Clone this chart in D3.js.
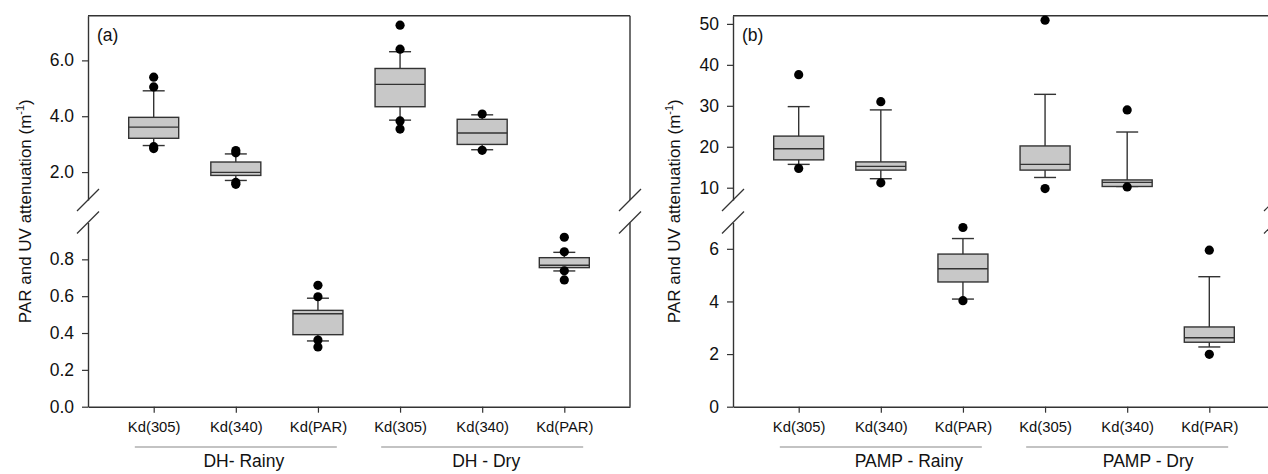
<!DOCTYPE html>
<html>
<head>
<meta charset="utf-8">
<script src="https://cdn.jsdelivr.net/npm/d3@7"></script>
<style>
  body { margin: 0; background: #fff; }
  svg { font-family: "Liberation Sans", Arial, sans-serif; }
</style>
</head>
<body>
<svg id="chart" width="1268" height="474"></svg>
<script>
// x categories, same for both panels (3 per season)
const categories = ['Kd(305)', 'Kd(340)', 'Kd(PAR)', 'Kd(305)', 'Kd(340)', 'Kd(PAR)'];

// panel (a) - DH
const dhGroups = ['DH- Rainy', 'DH - Dry'];
const dhWhiskerLow = [2.95, 1.70, 0.357, 3.86, 2.80, 0.737];
const dhQ1 = [3.21, 1.88, 0.391, 4.34, 2.99, 0.755];
const dhMedian = [3.61, 1.99, 0.505, 5.14, 3.40, 0.768];
const dhQ3 = [3.96, 2.36, 0.523, 5.71, 3.89, 0.809];
const dhWhiskerHigh = [4.91, 2.65, 0.589, 6.31, 4.05, 0.838];
const dhOutliers = [
    [5.40, 5.05, 2.91, 2.84],
    [2.77, 2.69, 1.63, 1.56],
    [0.659, 0.597, 0.362, 0.324],
    [7.26, 6.40, 3.83, 3.54],
    [4.08, 2.78],
    [0.92, 0.841, 0.738, 0.688]
];
const dhUpperTicks = [2, 4, 6];
const dhLowerTicks = [0, 0.2, 0.4, 0.6, 0.8];

// panel (b) - PAMP
const pampGroups = ['PAMP - Rainy', 'PAMP - Dry'];
const pampWhiskerLow = [15.7, 12.2, 4.09, 12.5, 10.3, 2.27];
const pampQ1 = [16.8, 14.3, 4.74, 14.3, 10.3, 2.45];
const pampMedian = [19.5, 15.2, 5.24, 15.7, 11.3, 2.62];
const pampQ3 = [22.6, 16.3, 5.80, 20.2, 11.9, 3.03];
const pampWhiskerHigh = [29.8, 29.0, 6.39, 32.8, 23.6, 4.94];
const pampOutliers = [
    [37.6, 14.7],
    [31.0, 11.2],
    [6.81, 4.03],
    [50.9, 9.8],
    [29.0, 10.2],
    [5.95, 1.99]
];
const pampUpperTicks = [10, 20, 30, 40, 50];
const pampLowerTicks = [0, 2, 4, 6];

// vertical layout shared by both panels (broken y axis)
const plotTop = 15.7;
const breakHigh = 200;
const breakLow = 222.5;
const plotBottom = 406.7;

const svg = d3.select('#chart');

function styleAxis(sel, size) {
    sel.select('.domain').attr('stroke', '#333').attr('stroke-width', 1.4);
    sel.selectAll('.tick line').attr('stroke', '#333').attr('stroke-width', 1.2);
    sel.selectAll('.tick text')
        .attr('fill', '#111')
        .style('font-size', size + 'px')
        .style('font-family', '"Liberation Sans", Arial, sans-serif');
}

function drawPanel(cfg) {
    const g = svg.append('g');

    // scales: one x point scale, two y scales for the broken axis
    const x = d3.scalePoint()
        .domain(d3.range(categories.length))
        .range([cfg.left, cfg.right])
        .padding(0.8);
    const yUp = d3.scaleLinear().domain(cfg.upperDomain).range([breakHigh, plotTop]);
    const yLow = d3.scaleLinear().domain(cfg.lowerDomain).range([plotBottom, breakLow]);
    const y = v => v <= cfg.lowerDomain[1] ? yLow(v) : yUp(v);

    // y axes (upper and lower segments)
    g.append('g')
        .attr('transform', `translate(${cfg.left},0)`)
        .call(d3.axisLeft(yUp).tickValues(cfg.upperTicks).tickFormat(cfg.format)
            .tickSize(6).tickSizeOuter(0).tickPadding(8))
        .call(styleAxis, 17.5);
    g.append('g')
        .attr('transform', `translate(${cfg.left},0)`)
        .call(d3.axisLeft(yLow).tickValues(cfg.lowerTicks).tickFormat(cfg.format)
            .tickSize(6).tickSizeOuter(0).tickPadding(8))
        .call(styleAxis, 17.5);

    // x axis
    g.append('g')
        .attr('transform', `translate(0,${plotBottom})`)
        .call(d3.axisBottom(x).tickFormat(i => categories[i]).tickSize(6).tickSizeOuter(0).tickPadding(9))
        .call(styleAxis, 14.8);

    // rest of the frame: top line + right side in both segments
    const frame = g.append('g').attr('stroke', '#333').attr('stroke-width', 1.4);
    frame.append('line').attr('x1', cfg.left).attr('x2', cfg.right).attr('y1', plotTop).attr('y2', plotTop);
    frame.append('line').attr('x1', cfg.right).attr('x2', cfg.right).attr('y1', plotTop).attr('y2', breakHigh);
    frame.append('line').attr('x1', cfg.right).attr('x2', cfg.right).attr('y1', breakLow).attr('y2', plotBottom);

    // break marks on both sides
    [cfg.left, cfg.right].forEach(bx => {
        [breakHigh, breakLow].forEach(by => {
            frame.append('line')
                .attr('stroke-width', 1.2)
                .attr('x1', bx - 11).attr('y1', by + 11)
                .attr('x2', bx + 11).attr('y2', by - 11);
        });
    });

    // boxes
    const boxW = 50, capW = 22;
    const boxes = d3.range(categories.length).map(i => ({
        i: i,
        lo: cfg.whiskerLow[i],
        q1: cfg.q1[i],
        med: cfg.median[i],
        q3: cfg.q3[i],
        hi: cfg.whiskerHigh[i],
        out: cfg.outliers[i]
    }));

    const b = g.selectAll('.box')
        .data(boxes)
        .enter().append('g')
        .attr('class', 'box')
        .attr('stroke', '#333')
        .attr('stroke-width', 1.4);

    // whiskers
    b.append('line')
        .attr('x1', d => x(d.i)).attr('x2', d => x(d.i))
        .attr('y1', d => y(d.lo)).attr('y2', d => y(d.hi));
    b.append('line')
        .attr('x1', d => x(d.i) - capW / 2).attr('x2', d => x(d.i) + capW / 2)
        .attr('y1', d => y(d.lo)).attr('y2', d => y(d.lo));
    b.append('line')
        .attr('x1', d => x(d.i) - capW / 2).attr('x2', d => x(d.i) + capW / 2)
        .attr('y1', d => y(d.hi)).attr('y2', d => y(d.hi));

    // box + median
    b.append('rect')
        .attr('x', d => x(d.i) - boxW / 2)
        .attr('width', boxW)
        .attr('y', d => y(d.q3))
        .attr('height', d => y(d.q1) - y(d.q3))
        .attr('fill', '#c8c8c8');
    b.append('line')
        .attr('x1', d => x(d.i) - boxW / 2).attr('x2', d => x(d.i) + boxW / 2)
        .attr('y1', d => y(d.med)).attr('y2', d => y(d.med));

    // outliers
    b.selectAll('circle')
        .data(d => d.out.map(v => ({ i: d.i, v: v })))
        .enter().append('circle')
        .attr('cx', d => x(d.i))
        .attr('cy', d => y(d.v))
        .attr('r', 4.6)
        .attr('stroke', 'none')
        .attr('fill', '#000');

    // season groups under the x axis
    cfg.groups.forEach((name, k) => {
        const mid = (x(k * 3) + x(k * 3 + 2)) / 2;
        const half = x.step() * 1.23;
        g.append('line')
            .attr('x1', mid - half).attr('x2', mid + half)
            .attr('y1', 447).attr('y2', 447)
            .attr('stroke', '#888').attr('stroke-width', 1.2);
        g.append('text')
            .attr('x', mid + cfg.groupShift[k])
            .attr('y', 467)
            .attr('text-anchor', 'middle')
            .attr('fill', '#111')
            .style('font-size', '17.5px')
            .text(name);
    });

    // y title
    const title = g.append('text')
        .attr('transform', `translate(${cfg.titleX},${(plotTop + plotBottom) / 2}) rotate(-90)`)
        .attr('text-anchor', 'middle')
        .attr('dy', '0.35em')
        .attr('fill', '#111')
        .style('font-size', '17px');
    title.append('tspan').text('PAR and UV attenuation (m');
    title.append('tspan').attr('dy', -7).style('font-size', '11px').text('-1');
    title.append('tspan').attr('dy', 7).text(')');

    // panel label
    g.append('text')
        .attr('x', cfg.left + 9)
        .attr('y', 41)
        .attr('fill', '#111')
        .style('font-size', '17.5px')
        .text(cfg.label);
}

drawPanel({
    label: '(a)',
    left: 88, right: 630, titleX: 25,
    upperDomain: [1, 7.6], lowerDomain: [0, 1],
    upperTicks: dhUpperTicks, lowerTicks: dhLowerTicks,
    format: d3.format('.1f'),
    whiskerLow: dhWhiskerLow, q1: dhQ1, median: dhMedian, q3: dhQ3,
    whiskerHigh: dhWhiskerHigh, outliers: dhOutliers,
    groups: dhGroups, groupShift: [8, 4]
});

drawPanel({
    label: '(b)',
    left: 733, right: 1275, titleX: 674,
    upperDomain: [7, 52], lowerDomain: [0, 7],
    upperTicks: pampUpperTicks, lowerTicks: pampLowerTicks,
    format: d3.format('d'),
    whiskerLow: pampWhiskerLow, q1: pampQ1, median: pampMedian, q3: pampQ3,
    whiskerHigh: pampWhiskerHigh, outliers: pampOutliers,
    groups: pampGroups, groupShift: [28, 21]
});
</script>
</body>
</html>
